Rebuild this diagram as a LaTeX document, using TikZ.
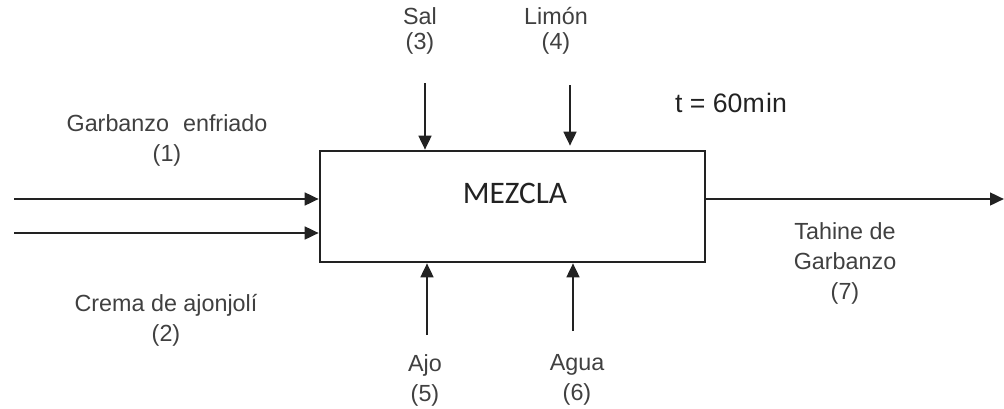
\documentclass[tikz,border=0pt]{standalone}
\usepackage{fontspec}
\setmainfont{Liberation Sans}
\newfontfamily\boxfont{Carlito}
\usetikzlibrary{arrows.meta}
\definecolor{ink}{HTML}{222222}
\definecolor{labelgray}{HTML}{404040}
\begin{document}
\begin{tikzpicture}[x=0.75pt,y=-0.75pt,
  flow/.style={draw=ink,line width=1.9pt,-{Triangle[length=10.5pt,width=9.5pt]}},
  lbl/.style={text=labelgray,align=center,inner sep=0pt,
    font=\fontsize{17.5}{22.5}\selectfont},
  toplbl/.style={lbl,font=\fontsize{17.5}{19}\selectfont},
  procbox/.style={draw=ink,line width=1.9pt,minimum width=288.75pt,
    minimum height=83.25pt,inner sep=0pt}]
\useasboundingbox (0,0) rectangle (1004,408);

% process block
\node[procbox] (box) at (512.5,206.5) {};
\node[text=ink,inner sep=0pt,font=\boxfont\fontsize{23.5}{26}\selectfont] (mezcla) at (515,193) {MEZCLA};
\node[text=ink,inner sep=0pt,font=\fontsize{20}{22}\selectfont] (time) at (731,103) {t = 60m\kern1pt in};

% free ends of the inputs and the output
\coordinate (in1) at (14,199);
\coordinate (in2) at (14,233);
\coordinate (in3) at (425,83);
\coordinate (in4) at (570,85);
\coordinate (in5) at (427,335);
\coordinate (in6) at (573,331);
\coordinate (out) at (1004,199);

% connectors
\draw[flow] (in1) -- (in1 -| box.west);
\draw[flow] (in2) -- (in2 -| box.west);
\draw[flow] (in3) -- (in3 |- box.north);
\draw[flow,shorten >=3pt] (in4) -- (in4 |- box.north);
\draw[flow] (in5) -- (in5 |- box.south);
\draw[flow] (in6) -- (in6 |- box.south);
\draw[flow] (out -| box.east) -- (out);

% stream labels
\node[lbl] (l1) at (167,140) {Garbanzo\hspace{0.6em}enfriado\\(1)};
\node[lbl] (l2) at (166,320) {Crema de ajonjolí\\(2)};
\node[toplbl] (l3) at (420,31) {Sal\\(3)};
\node[toplbl] (l4) at (556,31) {Limón\\(4)};
\node[lbl] (l5) at (425,380) {Ajo\\(5)};
\node[lbl] (l6) at (577,380) {Agua\\(6)};
\node[lbl] (l7) at (845,263) {Tahine de\\Garbanzo\\(7)};
\end{tikzpicture}
\end{document}
